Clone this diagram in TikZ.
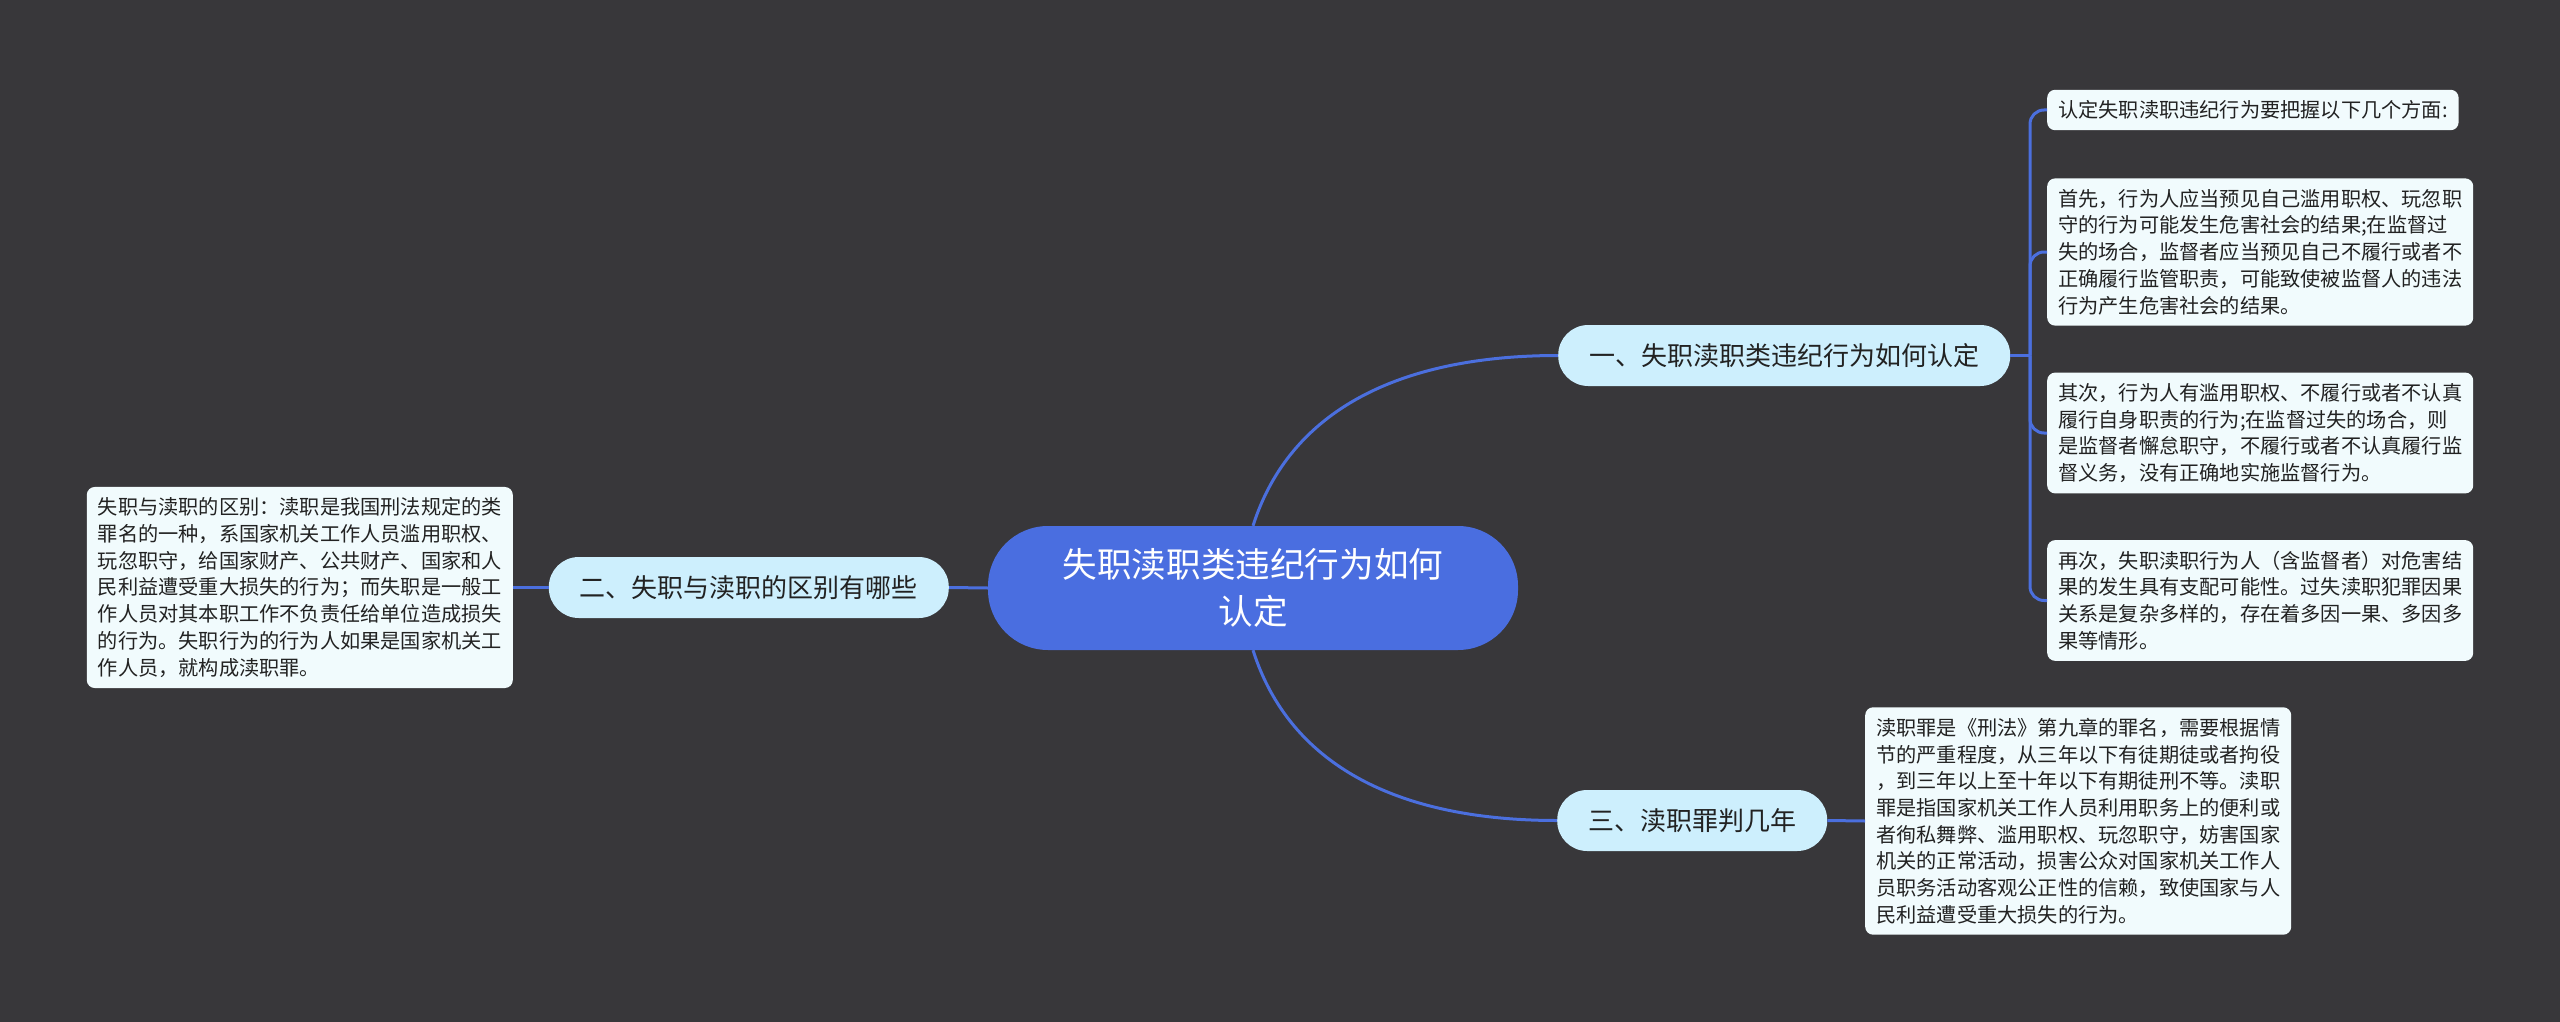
\documentclass[tikz,border=0pt]{standalone}
\usepackage{fontspec}
\setmainfont{Noto Sans CJK SC}
\definecolor{bgc}{HTML}{38373A}
\definecolor{mainc}{HTML}{4A6EE0}
\definecolor{linec}{HTML}{4B6FDE}
\definecolor{branchc}{HTML}{CDEFFD}
\definecolor{leafc}{HTML}{F1FBFD}
\definecolor{txtc}{HTML}{222222}
\begin{document}
\begin{tikzpicture}[x=1pt,y=-1pt,
  conn/.style={draw=linec,line width=3pt},
  rootbox/.style={fill=mainc,rounded corners=60pt,minimum width=530pt,minimum height=124pt,
    align=center,text=white,font=\fontsize{34.6}{47}\selectfont,inner sep=0pt},
  branchbox/.style={fill=branchc,rounded corners=30pt,minimum height=61pt,inner xsep=31pt,
    inner ysep=0pt,text=txtc,font=\fontsize{26}{30}\selectfont},
  leafbox/.style={fill=leafc,rounded corners=8pt,inner xsep=11pt,inner ysep=10.8pt,align=left,
    text=txtc,font=\fontsize{20.2}{26.7}\selectfont}]
\fill[bgc] (0,0) rectangle (2560,1022);
\useasboundingbox (0,0) rectangle (2560,1022);

\node[rootbox] (c) at (1253,588) {失职渎职类违纪行为如何\\认定};

\node[branchbox,anchor=west] (b1) at (1558,355.5) {一、失职渎职类违纪行为如何认定};
\node[branchbox,anchor=east] (b2) at (949,587.5) {二、失职与渎职的区别有哪些};
\node[branchbox,anchor=west] (b3) at (1557,820.5) {三、渎职罪判几年};

\node[leafbox,anchor=west] (l1) at (2047,110) {认定失职渎职违纪行为要把握以下几个方面:};
\node[leafbox,anchor=west] (l2) at (2047,252) {首先，行为人应当预见自己滥用职权、玩忽职\\守的行为可能发生危害社会的结果;在监督过\\失的场合，监督者应当预见自己不履行或者不\\正确履行监管职责，可能致使被监督人的违法\\行为产生危害社会的结果。};
\node[leafbox,anchor=west] (l3) at (2047,433) {其次，行为人有滥用职权、不履行或者不认真\\履行自身职责的行为;在监督过失的场合，则\\是监督者懈怠职守，不履行或者不认真履行监\\督义务，没有正确地实施监督行为。};
\node[leafbox,anchor=west] (l4) at (2047,600.5) {再次，失职渎职行为人（含监督者）对危害结\\果的发生具有支配可能性。过失渎职犯罪因果\\关系是复杂多样的，存在着多因一果、多因多\\果等情形。};
\node[leafbox,anchor=west] (l5) at (1865,821) {渎职罪是《刑法》第九章的罪名，需要根据情\\节的严重程度，从三年以下有徒期徒或者拘役\\，到三年以上至十年以下有期徒刑不等。渎职\\罪是指国家机关工作人员利用职务上的便利或\\者徇私舞弊、滥用职权、玩忽职守，妨害国家\\机关的正常活动，损害公众对国家机关工作人\\员职务活动客观公正性的信赖，致使国家与人\\民利益遭受重大损失的行为。};
\node[leafbox,anchor=east] (l6) at (513,587.5) {失职与渎职的区别：渎职是我国刑法规定的类\\罪名的一种，系国家机关工作人员滥用职权、\\玩忽职守，给国家财产、公共财产、国家和人\\民利益遭受重大损失的行为；而失职是一般工\\作人员对其本职工作不负责任给单位造成损失\\的行为。失职行为的行为人如果是国家机关工\\作人员，就构成渎职罪。};

\coordinate (j1) at (2030,355.5);

\draw[conn] (c.north) .. controls +(37,-116) and +(-158,0) .. (b1.west);
\draw[conn] (c.south) .. controls +(37,116) and +(-158,0) .. (b3.west);
\draw[conn] (c.west) -- (b2.east);
\draw[conn] (b2.west) -- (l6.east);
\draw[conn] (b3.east) -- (l5.west);
\draw[conn] (b1.east) -- (j1);
\draw[conn,rounded corners=14pt] (j1) |- (l1.west);
\draw[conn,rounded corners=14pt] (j1) |- (l2.west);
\draw[conn,rounded corners=14pt] (j1) |- (l3.west);
\draw[conn,rounded corners=14pt] (j1) |- (l4.west);
\end{tikzpicture}
\end{document}
